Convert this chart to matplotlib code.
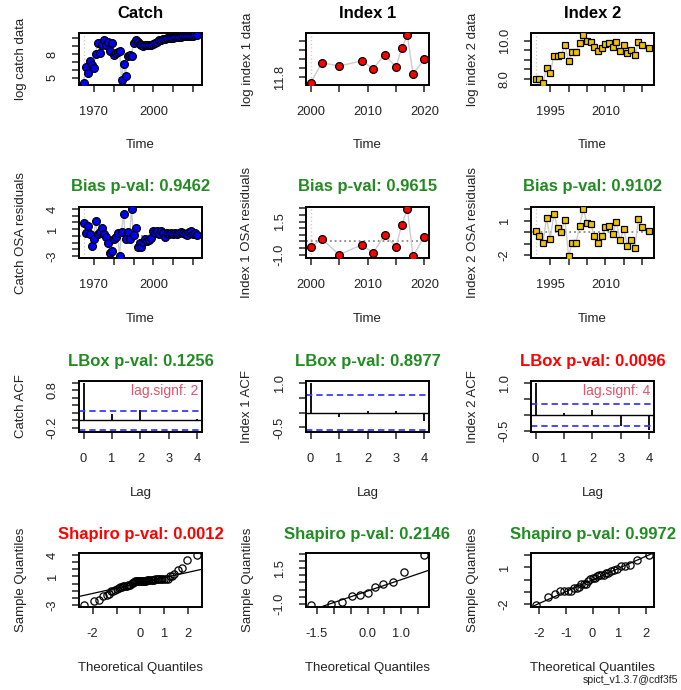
import statistics
import numpy as np
import matplotlib
matplotlib.use('Agg')
import matplotlib.pyplot as plt

plt.rcParams['font.family'] = ['Liberation Sans', 'DejaVu Sans']

# ---- data ----
catch_years = list(range(1965, 2023))
catch_log = [4.3, 6.4, 5.65, 7.1, 6.6, 6.2, 8.0, 9.4, 8.2, 9.1,
             9.85, 9.2, 9.6, 8.45, 9.4, 7.9, 8.1, 8.3, 8.45, 4.75,
             6.8, 5.2, 7.8, 7.9, 7.8, 9.4, 9.85, 9.55, 9.3, 9.1,
             9.05, 9.1, 9.1, 9.15, 9.2, 9.25, 9.45, 9.6, 9.75, 9.85,
             9.9, 9.95, 10.0, 10.05, 10.05, 10.1, 10.15, 10.15, 10.2, 10.2,
             10.25, 10.25, 10.3, 10.3, 10.35, 10.35, 10.4, 10.45]
catch_res = [1.9, 0.5, 1.4, 0.3, -1.5, -0.4, 2.2, 0.3, 0.6, 1.1,
             0.3, -0.2, -1.1, -2.5, -2.3, -0.5, -0.2, 0.5, -3.0, 0.6,
             3.3, -0.4, 0.6, -0.4, 4.0, 0.1, 1.1, -1.7, -1.0, -1.6,
             -0.9, -0.5, -0.7, -0.6, -0.3, 0.7, 0.5, 0.7, 0.3, 0.7,
             0.5, -0.2, 0.5, 0.3, 0.4, 0.3, 0.5, 0.3, 0.4, 0.6,
             0.5, 0.3, 0.1, 0.6, 0.7, 0.3, 0.4, 0.2]

idx1_years = [2000, 2002, 2005, 2009, 2011, 2013, 2015, 2016, 2017, 2018, 2020]
idx1_log = [11.73, 11.96, 11.92, 11.98, 11.89, 12.05, 11.91, 12.12, 12.27, 11.83, 12.00]
idx1_res = [-0.45, 0.2, -1.0, -0.25, -0.87, 0.5, -0.4, 1.25, 2.45, -1.1, 0.37]

idx2_years = list(range(1991, 2021)) + [2022]
idx2_log = [8.0, 8.0, 7.78, 8.55, 8.31, 9.22, 9.18, 9.27, 9.76, 8.96,
            9.40, 9.42, 9.91, 10.31, 10.0, 9.94, 9.67, 9.45, 9.60, 9.85,
            9.91, 9.67, 9.94, 9.49, 9.76, 9.36, 9.51, 9.24, 9.96, 9.78, 9.64]
idx2_res = [0.12, -0.33, -0.92, 1.24, -0.59, 1.62, 0.35, 0.05, 1.09, -2.1,
            -0.92, -0.97, 0.56, 2.03, 0.8, 0.7, -0.33, -0.97, -0.33, 0.41,
            0.56, -0.15, 0.85, -0.68, 0.27, -1.21, -0.68, -1.42, 1.15, 0.41, 0.12]

lags = [0, 1, 2, 3, 4]
catch_acf = [1.0, 0.18, 0.27, 0.02, 0.03]
idx1_acf = [1.0, -0.14, 0.05, 0.05, -0.28]
idx2_acf = [1.0, 0.07, 0.16, -0.33, -0.47]

names = ['Catch', 'Index 1', 'Index 2']
data_ylabels = ['log catch data', 'log index 1 data', 'log index 2 data']
res_ylabels = ['Catch OSA residuals', 'Index 1 OSA residuals', 'Index 2 OSA residuals']
acf_ylabels = ['Catch ACF', 'Index 1 ACF', 'Index 2 ACF']
bias_p = ['0.9462', '0.9615', '0.9102']
lbox_p = ['0.1256', '0.8977', '0.0096']
shapiro_p = ['0.0012', '0.2146', '0.9972']
lag_signf = ['2', None, '4']

GREEN = '#228B22'
RED = '#FF0000'

W, H = 681, 690
fig = plt.figure(figsize=(W / 100, H / 100), dpi=100)
cols = [(79, 202), (306, 429), (531, 654)]
rows = [(33, 85), (207, 258), (381, 432), (553, 607)]
title_pad = [10.6, 11.5, 10.8, 9.9]


def make_ax(r, c):
    x0, x1 = cols[c]
    y0, y1 = rows[r]
    ax = fig.add_axes([x0 / W, 1 - y1 / H, (x1 - x0) / W, (y1 - y0) / H])
    for s in ax.spines.values():
        s.set_linewidth(1.4)
    ax.tick_params(direction='out', length=5, width=1.1, labelsize=9.3,
                   colors='#222222')
    ax.tick_params(axis='x', pad=10)
    ax.tick_params(axis='y', pad=9.5)
    ax.margins(0.04)
    return ax


def finish(ax, r, c, xlabel, ylabel, title, tcolor, xt, xl, yt, yl):
    x0, x1 = cols[c]
    y0, y1 = rows[r]
    ax.set_xticks(xt, xl)
    ax.set_yticks(yt, yl)
    plt.setp(ax.get_yticklabels(), rotation=90, va='center')
    ax.set_xlabel(xlabel, fontsize=9.5, color='#222222', va='center')
    ax.set_ylabel(ylabel, fontsize=9.5, color='#222222', va='center')
    ax.xaxis.set_label_coords(0.5, -60.5 / (y1 - y0))
    ax.yaxis.set_label_coords(-58.5 / (x1 - x0), 0.5)
    ax.set_title(title, fontsize=12, fontweight='bold', color=tcolor, pad=title_pad[r])


def lab(ticks, shown):
    return [t if t in shown else '' for t in ticks]


def qq(values):
    n = len(values)
    a = 0.375 if n <= 10 else 0.5
    nd = statistics.NormalDist()
    theo = [nd.inv_cdf((i + 1 - a) / (n + 1 - 2 * a)) for i in range(n)]
    q1, q3 = np.quantile(values, [0.25, 0.75])
    t1, t3 = nd.inv_cdf(0.25), nd.inv_cdf(0.75)
    slope = (q3 - q1) / (t3 - t1)
    return theo, sorted(values), (t1, q1), slope


series = [
    (catch_years, catch_log, catch_res, catch_acf, 'o', '#0000FF', 5.6),
    (idx1_years, idx1_log, idx1_res, idx1_acf, 'o', '#FF0000', 5.6),
    (idx2_years, idx2_log, idx2_res, idx2_acf, 's', '#F2C200', 5.0),
]

time_ticks = [
    ([1970, 1980, 1990, 2000, 2010, 2020], ['1970', '', '', '2000', '', '']),
    ([2000, 2005, 2010, 2015, 2020], ['2000', '', '2010', '', '2020']),
    ([1995, 2000, 2005, 2010, 2015, 2020], ['1995', '', '', '2010', '', '']),
]
data_yt = [
    ([5, 6, 7, 8, 9, 10], ['5', '', '', '8', '', '']),
    ([11.8, 11.9, 12.0, 12.1, 12.2], ['11.8', '', '', '', '']),
    ([8.0, 8.5, 9.0, 9.5, 10.0], ['8.0', '', '', '', '10.0']),
]
res_yt = [
    ([-3, -2, -1, 0, 1, 2, 3, 4], ['-3', '', '', '', '1', '', '', '4']),
    ([-1.0, -0.5, 0.0, 0.5, 1.0, 1.5, 2.0, 2.5], ['-1.0', '', '', '', '', '1.5', '', '']),
    ([-2, -1, 0, 1, 2], ['-2', '', '', '1', '']),
]
acf_yt = [
    ([-0.2, 0.0, 0.2, 0.4, 0.6, 0.8, 1.0], ['-0.2', '', '', '', '', '0.8', '']),
    ([-0.5, 0.0, 0.5, 1.0], ['-0.5', '', '', '1.0']),
    ([-0.5, 0.0, 0.5, 1.0], ['-0.5', '', '', '1.0']),
]
qq_xt = [
    ([-2, -1, 0, 1, 2], ['-2', '', '0', '1', '2']),
    ([-1.5, -1.0, -0.5, 0.0, 0.5, 1.0, 1.5], ['-1.5', '', '', '0.0', '', '1.0', '']),
    ([-2, -1, 0, 1, 2], ['-2', '-1', '0', '1', '2']),
]

for c, (yrs, logv, res, acf, mk, col, ms) in enumerate(series):
    # row 1: data
    ax = make_ax(0, c)
    ax.plot(yrs, logv, color='#cccccc', lw=1, zorder=1)
    ax.axvline(yrs[0], color='#cccccc', ls=':', lw=1, zorder=0)
    ax.plot(yrs, logv, ls='none', marker=mk, ms=ms, mfc=col, mec='black', mew=0.9, zorder=3)
    finish(ax, 0, c, 'Time', data_ylabels[c], names[c], 'black',
           time_ticks[c][0], time_ticks[c][1], data_yt[c][0], data_yt[c][1])

    # row 2: OSA residuals
    ax = make_ax(1, c)
    ax.plot(yrs, res, color='#cccccc', lw=1, zorder=1)
    ax.axhline(0, color='#888888', ls=':', lw=1.3, zorder=0)
    ax.axvline(yrs[0], color='#cccccc', ls=':', lw=1, zorder=0)
    ax.plot(yrs, res, ls='none', marker=mk, ms=ms, mfc=col, mec='black', mew=0.9, zorder=3)
    finish(ax, 1, c, 'Time', res_ylabels[c], 'Bias p-val: ' + bias_p[c], GREEN,
           time_ticks[c][0], time_ticks[c][1], res_yt[c][0], res_yt[c][1])

    # row 3: ACF
    ax = make_ax(2, c)
    ci = 1.96 / np.sqrt(len(res))
    ax.vlines(lags, 0, acf, color='black', lw=1.3)
    ax.axhline(0, color='black', lw=1)
    for v in (ci, -ci):
        ax.axhline(v, color='#3b3bff', lw=1.3, ls=(0, (3.5, 2.2)))
    lo, hi = min(min(acf), -ci), max(max(acf), ci)
    ax.set_ylim(lo - 0.04 * (hi - lo), hi + 0.04 * (hi - lo))
    ax.set_xlim(lags[0] - 0.04 * (lags[-1] - lags[0]), lags[-1] + 0.04 * (lags[-1] - lags[0]))
    if lag_signf[c]:
        ax.text(0.97, 0.8, 'lag.signf: ' + lag_signf[c], transform=ax.transAxes,
                ha='right', va='center', fontsize=10, color='#DF536B')
    pcol = RED if float(lbox_p[c]) < 0.05 else GREEN
    finish(ax, 2, c, 'Lag', acf_ylabels[c], 'LBox p-val: ' + lbox_p[c], pcol,
           lags, [str(l) for l in lags], acf_yt[c][0], acf_yt[c][1])

    # row 4: QQ
    ax = make_ax(3, c)
    theo, samp, pt, slope = qq(res)
    ax.plot(theo, samp, ls='none', marker='o', ms=5.2, mfc='none', mec='black', mew=0.9)
    ax.axline(pt, slope=slope, color='black', lw=0.9)
    pcol = RED if float(shapiro_p[c]) < 0.05 else GREEN
    finish(ax, 3, c, 'Theoretical Quantiles', 'Sample Quantiles', 'Shapiro p-val: ' + shapiro_p[c], pcol,
           qq_xt[c][0], qq_xt[c][1], res_yt[c][0], res_yt[c][1])

fig.text(678 / W, 1 - 680 / H, 'spict_v1.3.7@cdf3f5', ha='right', va='center',
         fontsize=7.6, color='#222222')

fig.savefig('out.png', dpi=100)
